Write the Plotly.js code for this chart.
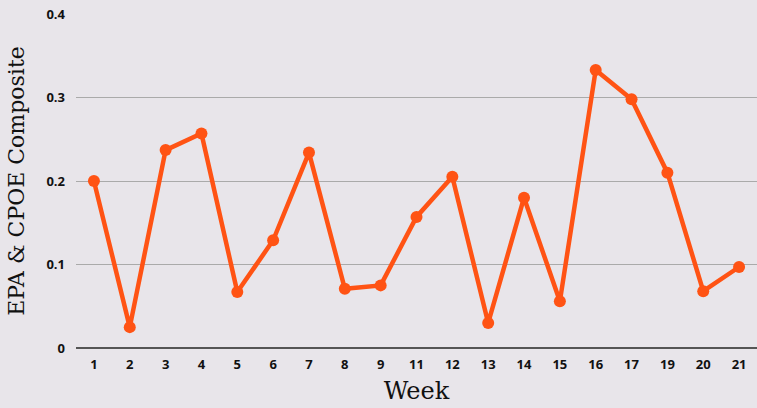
<!DOCTYPE html>
<html><head><meta charset="utf-8">
<script src="https://cdn.plot.ly/plotly-3.0.1.min.js"></script>
<style>html,body{margin:0;padding:0;background:#e8e5ea;}</style>
</head><body>
<div id="chart" style="width:757px;height:408px;"></div>
<script>
const weeks = ["1","2","3","4","5","6","7","8","9","11","12","13","14","15","16","17","19","20","21"];
const composite = [0.200,0.025,0.237,0.257,0.067,0.129,0.234,0.071,0.075,0.157,0.205,0.030,0.180,0.056,0.333,0.298,0.210,0.068,0.097];
const yTicks = [0,0.1,0.2,0.3,0.4];
const yTickText = ["0","0.1","0.2","0.3","0.4"];

Plotly.newPlot('chart', [{
  x: weeks, y: composite, type: 'scatter', mode: 'lines+markers',
  line: {color: '#ff5314', width: 4.5},
  marker: {color: '#ff5314', size: 12},
  hoverinfo: 'skip'
}], {
  width: 757, height: 408,
  paper_bgcolor: '#e8e5ea', plot_bgcolor: '#e8e5ea',
  margin: {l: 76, r: 0, t: 14, b: 60},
  showlegend: false,
  font: {family: 'Open Sans, sans-serif', color: '#111'},
  xaxis: {
    type: 'category', range: [-0.5, 18.5],
    showgrid: false, zeroline: false, showline: false,
    ticks: '', ticklabelstandoff: 7, tickfont: {size: 13, weight: 'bold', color: '#111'},
    title: {text: 'Week', font: {family: '"DejaVu Serif", serif', size: 24, color: '#111'}, standoff: 10},
    automargin: false
  },
  yaxis: {
    range: [0, 0.4], tickvals: yTicks, ticktext: yTickText,
    showgrid: true, gridcolor: '#aaaaaa', gridwidth: 1,
    zeroline: true, zerolinecolor: '#555555', zerolinewidth: 1.5,
    showline: false, ticks: '', ticklabelstandoff: 10,
    tickfont: {size: 13, weight: 'bold', color: '#111'},
    title: {text: 'EPA & CPOE Composite', font: {family: '"DejaVu Serif", serif', size: 22, color: '#111'}, standoff: 15},
    automargin: false
  }
}, {displayModeBar: false, staticPlot: true});
</script>
</body></html>
